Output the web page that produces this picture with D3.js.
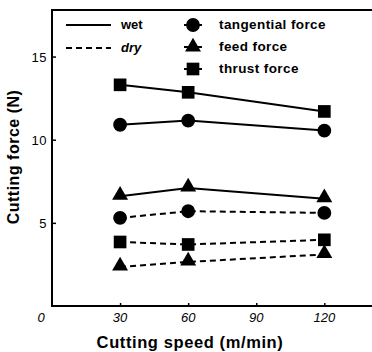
<!DOCTYPE html>
<html>
<head>
<meta charset="utf-8">
<script src="https://cdn.jsdelivr.net/npm/d3@7"></script>
<style>
  body { margin: 0; background: #fff; }
  text { font-family: "Liberation Sans", Arial, sans-serif; fill: #000; }
</style>
</head>
<body>
<div id="chart"></div>
<script>
// chart data
var speeds = [30, 60, 120]
var xTicks = [0, 30, 60, 90, 120]
var yTicks = [5, 10, 15]

var wetTangential = [10.9, 11.15, 10.55]
var wetFeed = [6.6, 7.1, 6.45]
var wetThrust = [13.3, 12.85, 11.7]
var dryTangential = [5.3, 5.7, 5.6]
var dryFeed = [2.35, 2.65, 3.1]
var dryThrust = [3.85, 3.7, 3.98]

var series = [
    { values: wetThrust, shape: "square", dry: false },
    { values: wetTangential, shape: "circle", dry: false },
    { values: wetFeed, shape: "triangle", dry: false },
    { values: dryTangential, shape: "circle", dry: true },
    { values: dryThrust, shape: "square", dry: true },
    { values: dryFeed, shape: "triangle", dry: true }
]

var width = 372
var height = 352
// plot box ("top" is a reserved window global, so use other names)
var padL = 52, padR = 372, padT = 10, padB = 306

var svg = d3.select("#chart")
    .append("svg")
    .attr("width", width)
    .attr("height", height)

var x = d3.scaleLinear().domain([0, 141]).range([padL, padR])
var y = d3.scaleLinear().domain([0, 17.8]).range([padB, padT])

// frame: left, top, bottom
svg.append("path")
    .attr("d", "M" + (padR + 2) + "," + padT + "H" + padL + "V" + padB + "H" + (padR + 2))
    .attr("fill", "none")
    .attr("stroke", "#000")
    .attr("stroke-width", 2)

// y ticks (inward) and labels
svg.append("g")
    .attr("transform", "translate(" + padL + ",0)")
    .call(d3.axisRight(y).tickValues(yTicks).tickSize(4).tickFormat(""))
    .call(g => g.select(".domain").remove())
    .call(g => g.selectAll("line").attr("stroke-width", 1.5))

svg.append("g").selectAll("text")
    .data(yTicks)
    .enter()
    .append("text")
    .attr("x", padL - 5)
    .attr("y", d => y(d) + 5)
    .attr("text-anchor", "end")
    .style("font-size", "13px")
    .style("letter-spacing", "0.5px")
    .text(d => d)

// x ticks (inward) and italic labels
svg.append("g")
    .attr("transform", "translate(0," + padB + ")")
    .call(d3.axisTop(x).tickValues(xTicks.slice(1)).tickSize(3).tickFormat(""))
    .call(g => g.select(".domain").remove())
    .call(g => g.selectAll("line").attr("stroke-width", 1.5))

svg.append("g").selectAll("text")
    .data(xTicks)
    .enter()
    .append("text")
    .attr("x", d => d == 0 ? x(d) - 11 : x(d))
    .attr("y", 322)
    .attr("text-anchor", "middle")
    .style("font-size", "13px")
    .style("font-style", "italic")
    .text(d => d)

// axis titles
svg.append("text")
    .attr("x", 190)
    .attr("y", 348)
    .attr("text-anchor", "middle")
    .style("font-size", "16.5px")
    .style("font-weight", "bold")
    .style("letter-spacing", "0.6px")
    .text("Cutting speed (m/min)")

svg.append("text")
    .attr("transform", "translate(19,157) rotate(-90)")
    .attr("text-anchor", "middle")
    .style("font-size", "16px")
    .style("font-weight", "bold")
    .style("letter-spacing", "0.5px")
    .text("Cutting force (N)")

var symbols = {
    circle: d3.symbol().type(d3.symbolCircle).size(150),
    square: d3.symbol().type(d3.symbolSquare).size(160),
    triangle: d3.symbol().type(d3.symbolTriangle).size(110)
}

var line = d3.line()
    .x((d, i) => x(speeds[i]))
    .y(d => y(d))

series.forEach(function(s) {
    svg.append("path")
        .datum(s.values)
        .attr("d", line)
        .attr("fill", "none")
        .attr("stroke", "#000")
        .attr("stroke-width", 2)
        .attr("stroke-dasharray", s.dry ? "6,4" : null)

    svg.append("g").selectAll("path")
        .data(s.values)
        .enter()
        .append("path")
        .attr("d", symbols[s.shape])
        .attr("transform", (d, i) => "translate(" + x(speeds[i]) + "," + (y(d) - (s.shape == "triangle" ? 1 : 0)) + ")")
        .attr("fill", "#000")
})

// legend
var lineLegend = [{ label: "wet", dry: false }, { label: "dry", dry: true }]
var lg = svg.append("g")
lg.selectAll("line")
    .data(lineLegend)
    .enter()
    .append("line")
    .attr("x1", 66).attr("x2", 111)
    .attr("y1", (d, i) => 25 + i * 23)
    .attr("y2", (d, i) => 25 + i * 23)
    .attr("stroke", "#000")
    .attr("stroke-width", 1.8)
    .attr("stroke-dasharray", d => d.dry ? "6,4" : null)
lg.selectAll("text")
    .data(lineLegend)
    .enter()
    .append("text")
    .attr("x", 121)
    .attr("y", (d, i) => 29 + i * 23)
    .style("font-size", "13px")
    .style("font-weight", "bold")
    .style("font-style", d => d.dry ? "italic" : "normal")
    .text(d => d.label)

var markerLegend = [
    { label: "tangential force", shape: "circle" },
    { label: "feed force", shape: "triangle" },
    { label: "thrust force", shape: "square" }
]
var mg = lg.selectAll("g.mk")
    .data(markerLegend)
    .enter()
    .append("g")
    .attr("transform", (d, i) => "translate(193," + (25 + i * 22) + ")")
mg.append("line")
    .attr("x1", -9).attr("x2", 9)
    .attr("stroke", "#000")
    .attr("stroke-width", 2)
mg.append("path")
    .attr("d", d => symbols[d.shape]())
    .attr("fill", "#000")
mg.append("text")
    .attr("x", 219 - 193)
    .attr("y", 4)
    .style("font-size", "13.5px")
    .style("font-weight", "bold")
    .style("letter-spacing", "0.4px")
    .text(d => d.label)
</script>
</body>
</html>
